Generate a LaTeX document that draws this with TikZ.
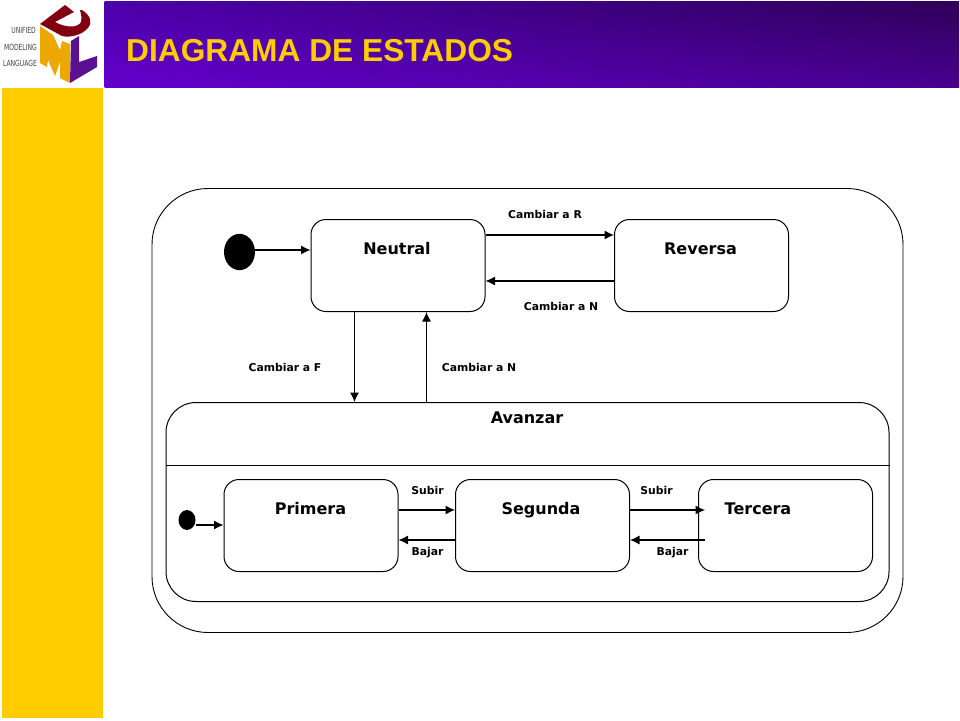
\documentclass[tikz,border=0pt]{standalone}
\usepackage{fontspec}
\setmainfont{DejaVu Sans}
\newfontfamily\titlefont{Liberation Sans}
\usetikzlibrary{arrows.meta,shadings}
\definecolor{gold}{HTML}{FFCC00}
\definecolor{bandUL}{HTML}{4C00A8}
\definecolor{bandUR}{HTML}{2E0058}
\definecolor{bandLL}{HTML}{6400CC}
\definecolor{bandLR}{HTML}{480090}
\definecolor{umlred}{HTML}{800010}
\definecolor{umlor}{HTML}{EDA800}
\definecolor{umlpu}{HTML}{5A1090}
\tikzset{
 x=1pt,y=-1pt,
 conn/.style={line width=1.1pt,-{Latex[length=9.5pt,width=9pt]}},
 statebox/.style={draw,line width=1pt,rounded corners=15pt,minimum width=174pt,minimum height=92pt,inner sep=0pt,fill=white},
 sname/.style={font=\fontsize{16}{18}\selectfont\bfseries,inner sep=0pt,anchor=base},
 lab/.style={font=\fontsize{10.8}{12}\selectfont\bfseries,inner sep=0pt,anchor=base},
 logot/.style={font=\fontsize{8.4}{9}\selectfont,text=black!75,inner sep=0pt,anchor=base east,xscale=0.72},
 initdot/.style={circle,fill=black,inner sep=0pt}
}
\begin{document}
\begin{tikzpicture}
\useasboundingbox (0,0) rectangle (960,720);
\fill[white] (0,0) rectangle (960,720);
\fill[gold] (2,88) rectangle (103,718);
\shade[upper left=bandUL,upper right=bandUR,lower left=bandLL,lower right=bandLR] (104.5,1) rectangle (959,87);
\node[font=\titlefont\fontsize{31.7}{36}\selectfont\bfseries,text=gold,anchor=base west,inner sep=0pt] (title) at (126,61) {DIAGRAMA DE ESTADOS};
% logo
\fill[umlor] (40,26) -- (53,35) -- (60,50) -- (62,41) -- (70,44) -- (70,83) -- (60,78) -- (60,62) -- (55,76) -- (48,60) -- (47,67) -- (40,63) -- cycle;
\fill[umlpu] (71,41) -- (79,36) -- (79,62) -- (97,56) -- (97,67) -- (70,83) -- cycle;
\fill[umlred] (65,5) -- (74,12) -- (55,22) .. controls (66,28) and (78,28) .. (81,22) .. controls (82,18) and (81,14) .. (80,10) -- (82,10) .. controls (90,15) and (93,22) .. (88,28) .. controls (82,35) and (70,38) .. (62,36) -- (40,24) -- cycle;
\node[logot] (l1) at (36,33) {UNIFIED};
\node[logot] (l2) at (37,50) {MODELING};
\node[logot] (l3) at (37,66) {LANGUAGE};
% outer
\node[draw,line width=0.9pt,rounded corners=56pt,minimum width=751pt,minimum height=444pt,inner sep=0pt] (outer) at (527.5,410.5) {};
% composite
\node[draw,line width=1pt,rounded corners=30pt,minimum width=723pt,minimum height=199pt,inner sep=0pt] (avanzar) at (527.5,502) {};
\coordinate (sl) at (avanzar.west |- 0,465);
\coordinate (sr) at (avanzar.east |- 0,465);
\draw[line width=1pt] (sl) -- (sr);
\node[sname] (avt) at (527,423) {Avanzar};
% states
\node[statebox] (neutral) at (398,265.5) {};
\node[statebox] (reversa) at (701.5,265.5) {};
\node[statebox] (primera) at (311,525.5) {};
\node[statebox] (segunda) at (542.5,525.5) {};
\node[statebox] (tercera) at (785.5,525.5) {};
\node[sname] (tn) at (397,254.5) {Neutral};
\node[sname] (tr) at (700.5,254.5) {Reversa};
\node[sname] (tp) at (310.5,514.5) {Primera};
\node[sname] (ts) at (541,514.5) {Segunda};
\node[sname] (tt) at (758,514.5) {Tercera};
% initial
\node[initdot,minimum width=31pt,minimum height=31pt,yscale=1.17] (i1) at (239.5,252) {};
\node[initdot,minimum width=17pt,minimum height=17pt,yscale=1.17] (i2) at (187,520) {};
% connectors
\draw[conn] (i1.east |- 0,250) -- (neutral.west |- 0,250);
\draw[conn] (i2.east) ++(0,5) -- (primera.west |- 0,525);
\draw[conn] (neutral.east |- 0,235) -- (reversa.west |- 0,235);
\draw[conn] (reversa.west |- 0,281) -- (neutral.east |- 0,281);
\draw[conn] (354.5,0 |- neutral.south) -- (354.5,0 |- avanzar.north);
\draw[conn] (426.5,0 |- avanzar.north) -- (426.5,0 |- neutral.south);
\draw[conn] (primera.east |- 0,510) -- (segunda.west |- 0,510);
\draw[conn] (segunda.west |- 0,540) -- (primera.east |- 0,540);
\coordinate (t1) at (705,510);
\coordinate (t2) at (705,540);
\draw[conn] (segunda.east |- 0,510) -- (t1);
\draw[conn] (t2) -- (segunda.east |- 0,540);
% labels
\node[lab] (a) at (545,218) {Cambiar a R};
\node[lab] (b) at (561,310) {Cambiar a N};
\node[lab] (c) at (285,371) {Cambiar a F};
\node[lab] (d) at (479,371) {Cambiar a N};
\node[lab] (e) at (427.5,494) {Subir};
\node[lab] (f) at (427.5,555) {Bajar};
\node[lab] (g) at (656.5,494) {Subir};
\node[lab] (h) at (672.5,555) {Bajar};
\end{tikzpicture}
\end{document}
